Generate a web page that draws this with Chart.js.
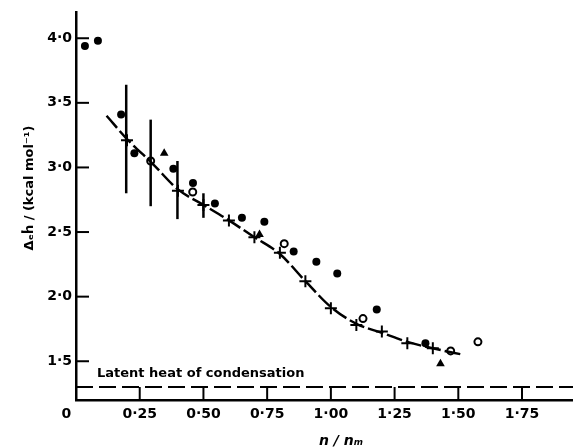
<!DOCTYPE html>
<html><head><meta charset="utf-8">
<script src="https://cdn.jsdelivr.net/npm/chart.js@4"></script>
<style>html,body{margin:0;padding:0;background:#fff}#wrap{width:573px;height:448px}</style>
</head><body><div id="wrap"><canvas id="c" width="573" height="448"></canvas></div>
<script>
const xTicks=[0,0.25,0.5,0.75,1.0,1.25,1.5,1.75];
const xTickLabels=['0    ','0·25','0·50','0·75','1·00','1·25','1·50','1·75'];
const yTicks=[1.5,2.0,2.5,3.0,3.5,4.0];
const yTickLabels=['1·5','2·0','2·5','3·0','3·5','4·0'];

const filledX=[0.035,0.086,0.177,0.229,0.382,0.459,0.545,0.651,0.739,0.854,0.943,1.025,1.18,1.371];
const filledY=[3.94,3.98,3.41,3.11,2.99,2.88,2.72,2.61,2.58,2.35,2.27,2.18,1.90,1.64];
const openX=[0.293,0.458,0.817,1.126,1.47,1.577];
const openY=[3.05,2.81,2.41,1.83,1.58,1.65];
const triX=[0.346,0.72,1.43];
const triY=[3.11,2.48,1.48];
const crossX=[0.2,0.4,0.5,0.6,0.7,0.8,0.9,1.0,1.1,1.2,1.3,1.4];
const crossY=[3.21,2.82,2.71,2.59,2.46,2.34,2.12,1.91,1.78,1.73,1.64,1.60];
const errX=[0.197,0.293,0.398,0.5];
const errLow=[2.80,2.70,2.60,2.61];
const errHigh=[3.64,3.37,3.05,2.80];
const curveX=[0.12,0.2,0.3,0.4,0.5,0.6,0.7,0.8,0.9,1.0,1.1,1.2,1.3,1.4,1.52];
const curveY=[3.40,3.22,3.03,2.83,2.71,2.59,2.46,2.33,2.12,1.92,1.79,1.72,1.65,1.60,1.55];
const latentHeat=1.3;
const latentLabel='Latent heat of condensation';
const yTitle='Δₑḣ / (kcal mol⁻¹)';
const xTitle='n / nₘ';

const pts=(xs,ys)=>xs.map((v,i)=>({x:v,y:ys[i]}));
const FONT='"DejaVu Sans", sans-serif';

const deco={id:'deco',
  afterDatasetsDraw(chart){
    const {ctx,scales:{x,y},chartArea:a}=chart;
    ctx.save();
    ctx.strokeStyle='#000';ctx.lineCap='butt';
    ctx.lineWidth=2.5;
    errX.forEach((v,i)=>{const px=x.getPixelForValue(v);ctx.beginPath();ctx.moveTo(px,y.getPixelForValue(errLow[i]));ctx.lineTo(px,y.getPixelForValue(errHigh[i]));ctx.stroke();});
    ctx.lineWidth=2;
    yTicks.forEach(v=>{const py=y.getPixelForValue(v);ctx.beginPath();ctx.moveTo(a.left,py);ctx.lineTo(a.left+13,py);ctx.stroke();});
    xTicks.slice(1).forEach(v=>{const px=x.getPixelForValue(v);ctx.beginPath();ctx.moveTo(px,a.bottom);ctx.lineTo(px,a.bottom-13);ctx.stroke();});
    ctx.fillStyle='#000';
    ctx.font='bold 13px '+FONT;ctx.textAlign='left';ctx.textBaseline='alphabetic';
    ctx.fillText(latentLabel,x.getPixelForValue(0.0825),y.getPixelForValue(1.381));
    ctx.save();ctx.translate(30,188);ctx.rotate(-Math.PI/2);ctx.textAlign='center';ctx.textBaseline='middle';
    ctx.font='bold 13px '+FONT;ctx.fillText(yTitle,0,0);ctx.restore();
    ctx.font='italic bold 14px '+FONT;ctx.textAlign='center';ctx.textBaseline='middle';
    ctx.fillText(xTitle,341,441);
    ctx.restore();
  }};

new Chart(document.getElementById('c'),{
  data:{datasets:[
    {type:'line',data:[{x:0,y:latentHeat},{x:1.95,y:latentHeat}],borderColor:'#000',borderWidth:2,borderDash:[17,6],pointRadius:0,fill:false},
    {type:'line',data:pts(curveX,curveY),borderColor:'#000',borderWidth:2.5,borderDash:[16,4],pointRadius:0,cubicInterpolationMode:'monotone',fill:false},
    {type:'scatter',data:pts(crossX,crossY),pointStyle:'cross',pointRadius:6,borderWidth:2,borderColor:'#000'},
    {type:'scatter',data:pts(filledX,filledY),pointStyle:'circle',pointRadius:4,backgroundColor:'#000',borderColor:'#000',borderWidth:0},
    {type:'scatter',data:pts(openX,openY),pointStyle:'circle',pointRadius:3.5,backgroundColor:'#fff',borderColor:'#000',borderWidth:2},
    {type:'scatter',data:pts(triX,triY),pointStyle:'triangle',pointRadius:5,backgroundColor:'#000',borderColor:'#000',borderWidth:0}
  ]},
  options:{responsive:false,animation:false,
    layout:{autoPadding:false,padding:{top:9,right:0,left:0,bottom:0}},
    plugins:{legend:{display:false},tooltip:{enabled:false}},
    scales:{
      x:{type:'linear',min:0,max:1.95,
        afterFit(s){s.height=48;},
        afterBuildTicks(s){s.ticks=xTicks.map(v=>({value:v}));},
        ticks:{callback:(v,i)=>xTickLabels[i],font:{family:FONT,size:14,weight:'bold'},color:'#000',padding:6,maxRotation:0,autoSkip:false},
        grid:{display:false,drawTicks:false},border:{display:true,color:'#000',width:2.5}},
      y:{type:'linear',min:1.2,max:4.2,
        afterFit(s){s.width=76;},
        afterBuildTicks(s){s.ticks=yTicks.map(v=>({value:v}));},
        ticks:{callback:(v,i)=>yTickLabels[i],font:{family:FONT,size:14,weight:'bold'},color:'#000',padding:4,autoSkip:false},
        grid:{display:false,drawTicks:false},border:{display:true,color:'#000',width:2.5}}
    }},
  plugins:[deco]
});
</script></body></html>
